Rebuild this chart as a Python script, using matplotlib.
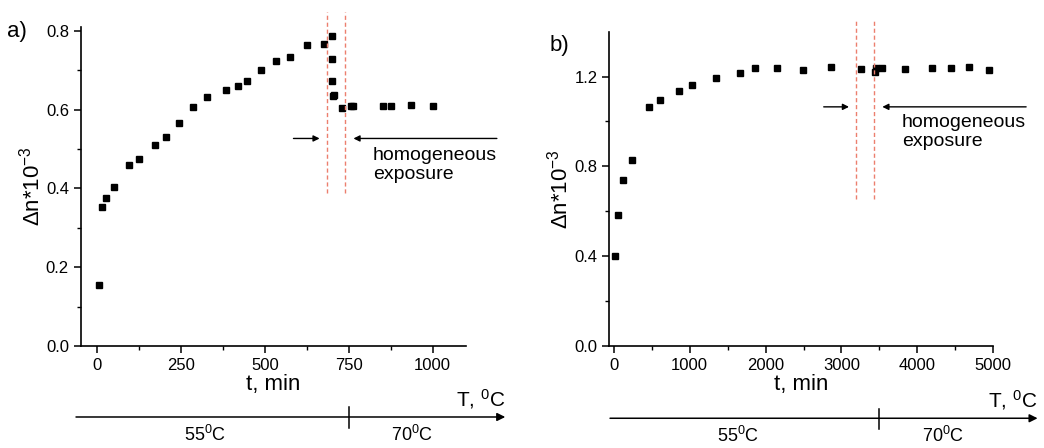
import matplotlib
matplotlib.use("Agg")
import matplotlib.pyplot as plt
import matplotlib.transforms as mtransforms

plt.rcParams["font.family"] = ["Liberation Sans", "DejaVu Sans"]
plt.rcParams["mathtext.fontset"] = "custom"
plt.rcParams["mathtext.rm"] = "Liberation Sans"
plt.rcParams["mathtext.it"] = "Liberation Sans:italic"
plt.rcParams["mathtext.bf"] = "Liberation Sans:bold"

# panel a) data
t_a = [4, 13, 26, 49, 94, 124, 171, 206, 242, 285, 327, 384, 420, 445, 489,
       534, 574, 626, 675, 700, 700, 700, 703, 705, 729, 758, 762, 852, 877,
       936, 1000]
dn_a = [0.156, 0.352, 0.375, 0.405, 0.459, 0.475, 0.510, 0.531, 0.567, 0.608,
        0.633, 0.649, 0.659, 0.672, 0.700, 0.723, 0.735, 0.765, 0.766, 0.786,
        0.730, 0.672, 0.635, 0.637, 0.605, 0.610, 0.610, 0.610, 0.610, 0.613,
        0.610]
exposure_a = [685, 738]
switch_a = 750

# panel b) data
t_b = [16, 51, 121, 239, 459, 612, 853, 1029, 1345, 1669, 1858, 2156, 2498,
       2867, 3253, 3437, 3450, 3529, 3841, 4191, 4437, 4683, 4941]
dn_b = [0.401, 0.582, 0.741, 0.830, 1.065, 1.094, 1.137, 1.164, 1.195, 1.218,
        1.238, 1.238, 1.231, 1.244, 1.232, 1.220, 1.238, 1.240, 1.234, 1.240,
        1.240, 1.244, 1.229]
exposure_b = [3196, 3428]
switch_b = 3500

fig = plt.figure(figsize=(10.44, 4.48), dpi=100)

red = "#ec7f6e"


def style(ax):
    for s in ["top", "right"]:
        ax.spines[s].set_visible(False)
    for s in ["left", "bottom"]:
        ax.spines[s].set_linewidth(1.2)
    ax.tick_params(which="major", direction="out", length=5, width=1.1, labelsize=12)
    ax.tick_params(which="minor", direction="out", length=3, width=1.0)


def temp_axis(ax, x0, x1, switch, ylev, lab55, lab70):
    tr = mtransforms.blended_transform_factory(ax.transData, ax.transAxes)
    ax.annotate("", xy=(x1, ylev), xytext=(x0, ylev), xycoords=tr, textcoords=tr,
                arrowprops=dict(arrowstyle="-|>", lw=1.1, color="black",
                                mutation_scale=12, shrinkA=0, shrinkB=0),
                annotation_clip=False)
    ax.plot([switch, switch], [ylev - 0.035, ylev + 0.03], color="black", lw=1.1,
            transform=tr, clip_on=False)
    ax.text(lab55, ylev - 0.055, "55$^0$C", transform=tr, ha="center", va="center",
            fontsize=13)
    ax.text(lab70, ylev - 0.055, "70$^0$C", transform=tr, ha="center", va="center",
            fontsize=13)
    ax.text(x1, ylev + 0.02, "T, $^0$C", transform=tr, ha="right", va="bottom",
            fontsize=15)


# ---- panel a
ax1 = fig.add_axes([0.0773, 0.2277, 0.3691, 0.712])
style(ax1)
ax1.plot(t_a, dn_a, "s", color="black", markersize=4.6, clip_on=False)
ax1.set_xlim(-50, 1100)
ax1.set_ylim(0, 0.81)
ax1.set_xticks([0, 250, 500, 750, 1000])
ax1.set_xticks([125, 375, 625, 875], minor=True)
ax1.set_yticks([0.0, 0.2, 0.4, 0.6, 0.8])
ax1.set_yticks([0.1, 0.3, 0.5, 0.7], minor=True)
ax1.set_xlabel("t, min", fontsize=16, labelpad=1)
ax1.set_ylabel("Δn*10$^{-3}$", fontsize=16, labelpad=1)
for xv in exposure_a:
    ax1.plot([xv, xv], [0.389, 0.848], ls=(0, (3, 2)), color=red, lw=1.0, clip_on=False)
ax1.annotate("", xy=(663, 0.527), xytext=(585, 0.527),
             arrowprops=dict(arrowstyle="-|>", lw=1.0, color="black", mutation_scale=9,
                             shrinkA=0, shrinkB=0), annotation_clip=False)
ax1.annotate("", xy=(764, 0.527), xytext=(1192, 0.527),
             arrowprops=dict(arrowstyle="-|>", lw=1.0, color="black", mutation_scale=9,
                             shrinkA=0, shrinkB=0), annotation_clip=False)
ax1.text(822, 0.505, "homogeneous\nexposure", fontsize=14, ha="left", va="top",
         linespacing=1.15)
ax1.text(-0.19, 0.985, "a)", transform=ax1.transAxes, fontsize=16, ha="left", va="center")
temp_axis(ax1, -64, 1217, switch_a, -0.2226, 320, 940)

# ---- panel b
ax2 = fig.add_axes([0.5836, 0.2283, 0.3678, 0.7009])
style(ax2)
ax2.plot(t_b, dn_b, "s", color="black", markersize=4.6, clip_on=False)
ax2.set_xlim(-60, 5000)
ax2.set_ylim(0, 1.4)
ax2.set_xticks([0, 1000, 2000, 3000, 4000, 5000])
ax2.set_xticks([500, 1500, 2500, 3500, 4500], minor=True)
ax2.set_yticks([0.0, 0.4, 0.8, 1.2])
ax2.set_yticks([0.2, 0.6, 1.0], minor=True)
ax2.set_xlabel("t, min", fontsize=16, labelpad=1)
ax2.set_ylabel("Δn*10$^{-3}$", fontsize=16, labelpad=1)
for xv in exposure_b:
    ax2.plot([xv, xv], [0.653, 1.458], ls=(0, (3, 2)), color=red, lw=1.0, clip_on=False)
ax2.annotate("", xy=(3099, 1.065), xytext=(2766, 1.065),
             arrowprops=dict(arrowstyle="-|>", lw=1.0, color="black", mutation_scale=9,
                             shrinkA=0, shrinkB=0), annotation_clip=False)
ax2.annotate("", xy=(3538, 1.065), xytext=(5433, 1.065),
             arrowprops=dict(arrowstyle="-|>", lw=1.0, color="black", mutation_scale=9,
                             shrinkA=0, shrinkB=0), annotation_clip=False)
ax2.text(3796, 1.035, "homogeneous\nexposure", fontsize=14, ha="left", va="top",
         linespacing=1.15)
ax2.text(-0.155, 0.955, "b)", transform=ax2.transAxes, fontsize=16, ha="left", va="center")
temp_axis(ax2, -50, 5584, switch_b, -0.231, 1634, 4332)

fig.savefig("out.png", dpi=100)
